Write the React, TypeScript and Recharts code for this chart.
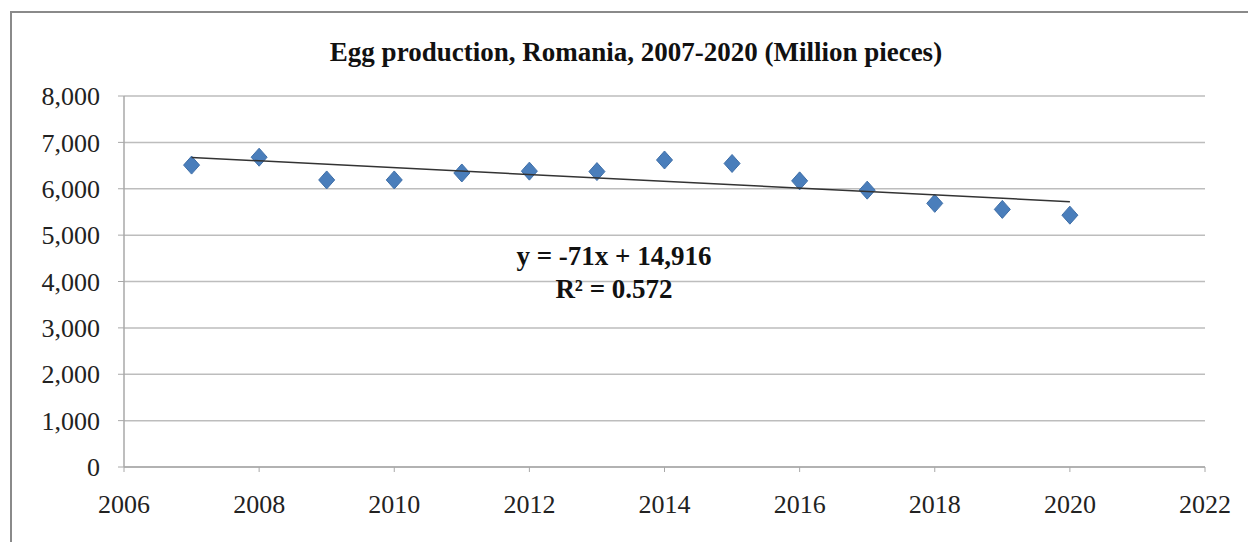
import { ScatterChart, Scatter, XAxis, YAxis, CartesianGrid } from 'recharts';

// egg production, million pieces
const years = [2007, 2008, 2009, 2010, 2011, 2012, 2013, 2014, 2015, 2016, 2017, 2018, 2019, 2020];
const production = [6510, 6680, 6190, 6190, 6340, 6380, 6370, 6620, 6545, 6170, 5970, 5685, 5555, 5430];

// linear trend endpoints
const trendYears = [2007, 2020];
const trendValues = [6675, 5720];

const xTicks = [2006, 2008, 2010, 2012, 2014, 2016, 2018, 2020, 2022];
const yTicks = [0, 1000, 2000, 3000, 4000, 5000, 6000, 7000, 8000];

const title = 'Egg production, Romania, 2007-2020 (Million pieces)';
const equation = 'y = -71x + 14,916';
const rSquared = 'R² = 0.572';

const points = years.map((year, i) => ({ year, value: production[i] }));
const trend = trendYears.map((year, i) => ({ year, value: trendValues[i] }));

const FONT = '"Liberation Serif", "Times New Roman", serif';

const Diamond = (props: any) => {
  const { cx, cy } = props;
  if (cx == null || cy == null) return null;
  const w = 8;
  const h = 9;
  return (
    <polygon
      points={`${cx},${cy - h} ${cx + w},${cy} ${cx},${cy + h} ${cx - w},${cy}`}
      fill="#4a7ebb"
      stroke="#3f6fa8"
      strokeWidth={1}
    />
  );
};

const NoDot = () => <g />;

export default function App() {
  const tick = { fontSize: 26, fill: '#222', fontFamily: FONT };
  return (
    <div style={{ position: 'absolute', left: 0, top: 0, width: 1248, height: 542, overflow: 'hidden', background: '#fff' }}>
      <div
        style={{
          position: 'absolute', left: 10, top: 11, width: 1260, height: 560,
          border: '2px solid #8a8a8a', boxSizing: 'border-box',
        }}
      />
      <div
        style={{
          position: 'absolute', left: 0, top: 35, width: 1272, textAlign: 'center',
          fontFamily: FONT, fontWeight: 'bold', fontSize: 27, color: '#111', lineHeight: '34px',
        }}
      >
        {title}
      </div>
      <div style={{ position: 'absolute', left: 0, top: 0 }}>
        <ScatterChart width={1248} height={542} margin={{ top: 96, right: 43, bottom: 0, left: 0 }}>
          <CartesianGrid horizontal vertical={false} stroke="#bdbdbd" strokeWidth={1.5} />
          <XAxis
            type="number"
            dataKey="year"
            domain={[2006, 2022]}
            ticks={xTicks}
            allowDataOverflow
            height={75}
            tick={tick}
            tickSize={5}
            tickMargin={23}
            axisLine={{ stroke: '#a8a8a8', strokeWidth: 1.5 }}
            tickLine={{ stroke: '#a8a8a8' }}
          />
          <YAxis
            type="number"
            dataKey="value"
            domain={[0, 8000]}
            ticks={yTicks}
            width={124}
            tick={tick}
            tickSize={6}
            tickMargin={18}
            tickFormatter={(v: number) => v.toLocaleString('en-US')}
            axisLine={{ stroke: '#a8a8a8', strokeWidth: 1.5 }}
            tickLine={{ stroke: '#a8a8a8' }}
          />
          <Scatter data={points} shape={Diamond} isAnimationActive={false} />
          <Scatter
            data={trend}
            line={{ stroke: '#333', strokeWidth: 1.5 }}
            shape={NoDot}
            isAnimationActive={false}
          />
        </ScatterChart>
      </div>
      <div
        style={{
          position: 'absolute', left: 494, top: 240, width: 240, textAlign: 'center',
          fontFamily: FONT, fontWeight: 'bold', fontSize: 27, color: '#111', lineHeight: '33px',
        }}
      >
        <div>{equation}</div>
        <div>{rSquared}</div>
      </div>
    </div>
  );
}
